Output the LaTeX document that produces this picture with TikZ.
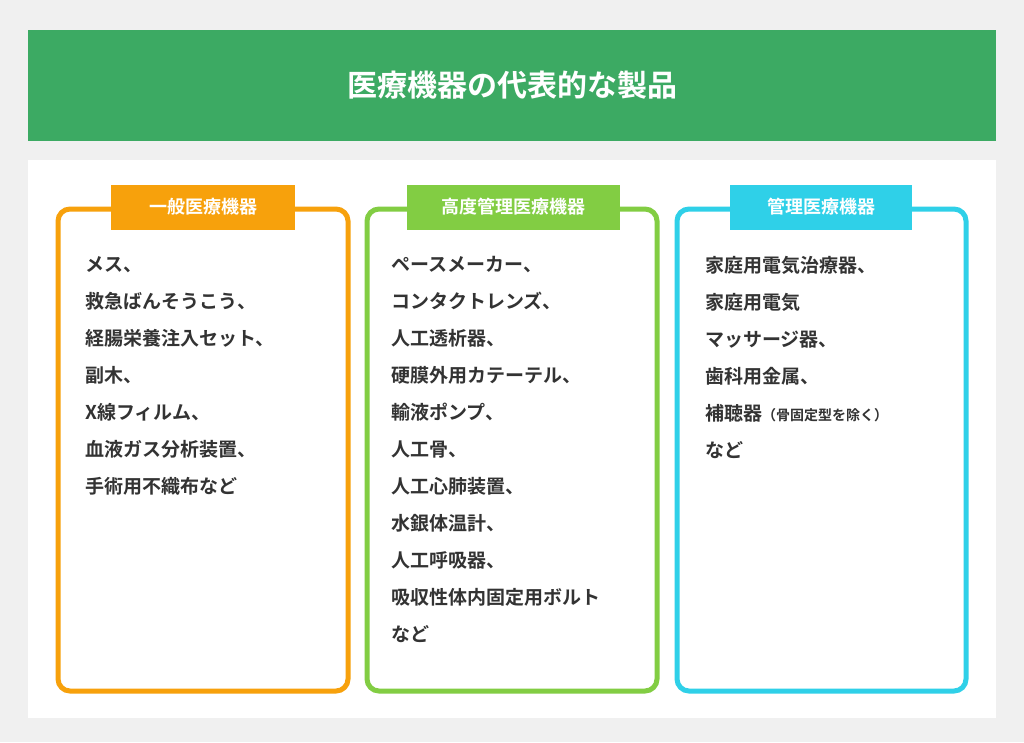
\documentclass[tikz,border=0pt]{standalone}
\usepackage{fontspec}
\setmainfont{Noto Sans CJK JP}
\newfontfamily\jpbold{Noto Sans CJK JP Bold}
\usetikzlibrary{positioning}
\definecolor{bggray}{HTML}{F0F0F0}
\definecolor{titlegreen}{HTML}{3CAA63}
\definecolor{tabA}{HTML}{F7A10C}
\definecolor{tabB}{HTML}{82CD43}
\definecolor{tabC}{HTML}{2FD0E8}
\definecolor{itemtext}{HTML}{333333}
\tikzset{
  panel/.style={rounded corners=12pt, line width=5pt},
  tabbox/.style={fill=#1, minimum height=45pt, text=white, font=\jpbold\fontsize{18}{18}\selectfont},
  itemlist/.style={anchor=north west, align=left, text=itemtext, inner sep=0pt,
    font=\jpbold\fontsize{19}{37}\selectfont}
}
\begin{document}
\begin{tikzpicture}[x=1pt, y=-1pt]
  \fill[bggray] (0,0) rectangle (1024,742);
  \useasboundingbox (0,0) rectangle (1024,742);
  % header
  \fill[titlegreen] (28,30) rectangle (996,141);
  \node[text=white, font=\jpbold\fontsize{30}{30}\selectfont] (title) at (512,85) {医療機器の代表的な製品};
  \fill[white] (28,160) rectangle (996,718);
  % boxes
  \draw[panel, tabA] (58,209) rectangle (348,691);
  \draw[panel, tabB] (367,209) rectangle (657,691);
  \draw[panel, tabC] (677,209) rectangle (966,691);
  \node[tabbox=tabA, minimum width=184pt] (tabgeneral) at (203,207) {一般医療機器};
  \node[tabbox=tabB, minimum width=213pt] (tabhigh) at (513,207) {高度管理医療機器};
  \node[tabbox=tabC, minimum width=182pt] (tabctrl) at (821,207) {管理医療機器};
  % lists
  \node[itemlist] (listgeneral) at (85,256) {メス、\\救急ばんそうこう、\\経腸栄養注入セット、\\副木、\\X線フィルム、\\血液ガス分析装置、\\手術用不織布など};
  \node[itemlist] (listhigh) at (391,256) {ペースメーカー、\\コンタクトレンズ、\\人工透析器、\\硬膜外用カテーテル、\\輸液ポンプ、\\人工骨、\\人工心肺装置、\\水銀体温計、\\人工呼吸器、\\吸収性体内固定用ボルト\\など};
  \node[itemlist] (listctrl) at (705,256) {家庭用電気治療器、\\家庭用電気\\マッサージ器、\\歯科用金属、\\補聴器{\fontsize{14}{14}\selectfont（骨固定型を除く）}\\など};
\end{tikzpicture}
\end{document}
